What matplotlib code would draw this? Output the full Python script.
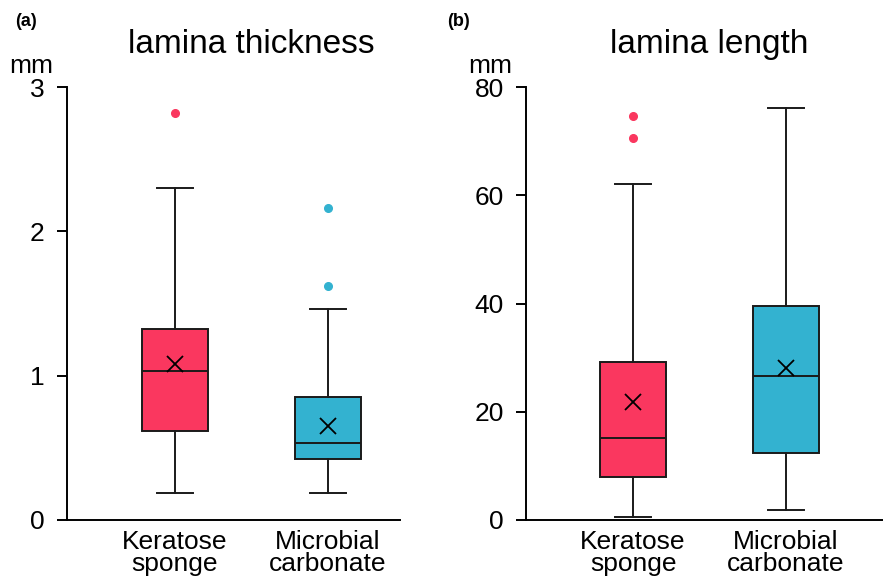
import numpy as np
import matplotlib.pyplot as plt

plt.rcParams['font.family'] = ['Liberation Sans', 'DejaVu Sans']

categories = ['Keratose\nsponge', 'Microbial\ncarbonate']
colors = ['#FA375F', '#33B2D0']

# lamina thickness (mm)
thick_whislo = [0.19, 0.19]
thick_q1 = [0.62, 0.42]
thick_med = [1.03, 0.53]
thick_q3 = [1.32, 0.85]
thick_whishi = [2.30, 1.46]
thick_mean = [1.08, 0.65]
thick_fliers = [[2.82], [2.16, 1.62]]

# lamina length (mm)
len_whislo = [0.6, 1.9]
len_q1 = [7.9, 12.4]
len_med = [15.2, 26.6]
len_q3 = [29.2, 39.6]
len_whishi = [62.0, 76.2]
len_mean = [21.8, 28.1]
len_fliers = [[74.7, 70.6], []]


def make_stats(lo, q1, med, q3, hi, mean, fliers):
    return [dict(whislo=lo[i], q1=q1[i], med=med[i], q3=q3[i], whishi=hi[i],
                 mean=mean[i], fliers=fliers[i], label=categories[i])
            for i in range(len(categories))]


fig = plt.figure(figsize=(8.83, 5.77), dpi=100)
ax1 = fig.add_axes([0.0759, 0.0988, 0.377, 0.7504])
ax2 = fig.add_axes([0.5957, 0.0988, 0.4043, 0.7504])

panels = [
    (ax1, make_stats(thick_whislo, thick_q1, thick_med, thick_q3, thick_whishi, thick_mean, thick_fliers),
     'lamina thickness', [0, 1, 2, 3], (0, 3), (0.294, 2.47)),
    (ax2, make_stats(len_whislo, len_q1, len_med, len_q3, len_whishi, len_mean, len_fliers),
     'lamina length', [0, 20, 40, 60, 80], (0, 80), (0.30, 2.634)),
]

for ax, stats, title, yt, ylim, xlim in panels:
    bp = ax.bxp(stats, positions=[1, 2], widths=0.43, capwidths=0.235,
                patch_artist=True, showmeans=True,
                boxprops=dict(edgecolor='#1a1a1a', linewidth=1.4),
                medianprops=dict(color='#1a1a1a', linewidth=1.4),
                whiskerprops=dict(color='#1a1a1a', linewidth=1.4),
                capprops=dict(color='#1a1a1a', linewidth=1.4),
                meanprops=dict(marker='x', markeredgecolor='black', markersize=11,
                               markeredgewidth=1.3))
    for patch, c, fl in zip(bp['boxes'], colors, bp['fliers']):
        patch.set_facecolor(c)
        fl.set(marker='o', markerfacecolor=c, markeredgecolor=c, markersize=5.5)
    ax.set_xlim(*xlim)
    ax.set_ylim(*ylim)
    ax.set_yticks(yt)
    ax.tick_params(axis='y', direction='out', length=7, width=1.4, labelsize=19, pad=9)
    ax.tick_params(axis='x', length=0, labelsize=19, pad=7)
    ax.set_xticklabels(categories, linespacing=0.9)
    for s in ['top', 'right']:
        ax.spines[s].set_visible(False)
    ax.spines['left'].set_linewidth(1.4)
    ax.spines['bottom'].set_linewidth(1.4)
    # title centred over the two boxes
    ax.annotate(title, xy=(1.5, 1), xycoords=('data', 'axes fraction'),
                xytext=(0, 34), textcoords='offset pixels',
                ha='center', va='baseline', fontsize=24, annotation_clip=False)
    ax.annotate('mm', xy=(0, 1), xycoords='axes fraction',
                xytext=(-14, 14), textcoords='offset pixels',
                ha='right', va='baseline', fontsize=19, annotation_clip=False)

fig.text(0.017, 0.963, '(a)', fontsize=13, fontweight='bold', va='center')
fig.text(0.506, 0.963, '(b)', fontsize=13, fontweight='bold', va='center')

fig.savefig('out.png', dpi=100)
